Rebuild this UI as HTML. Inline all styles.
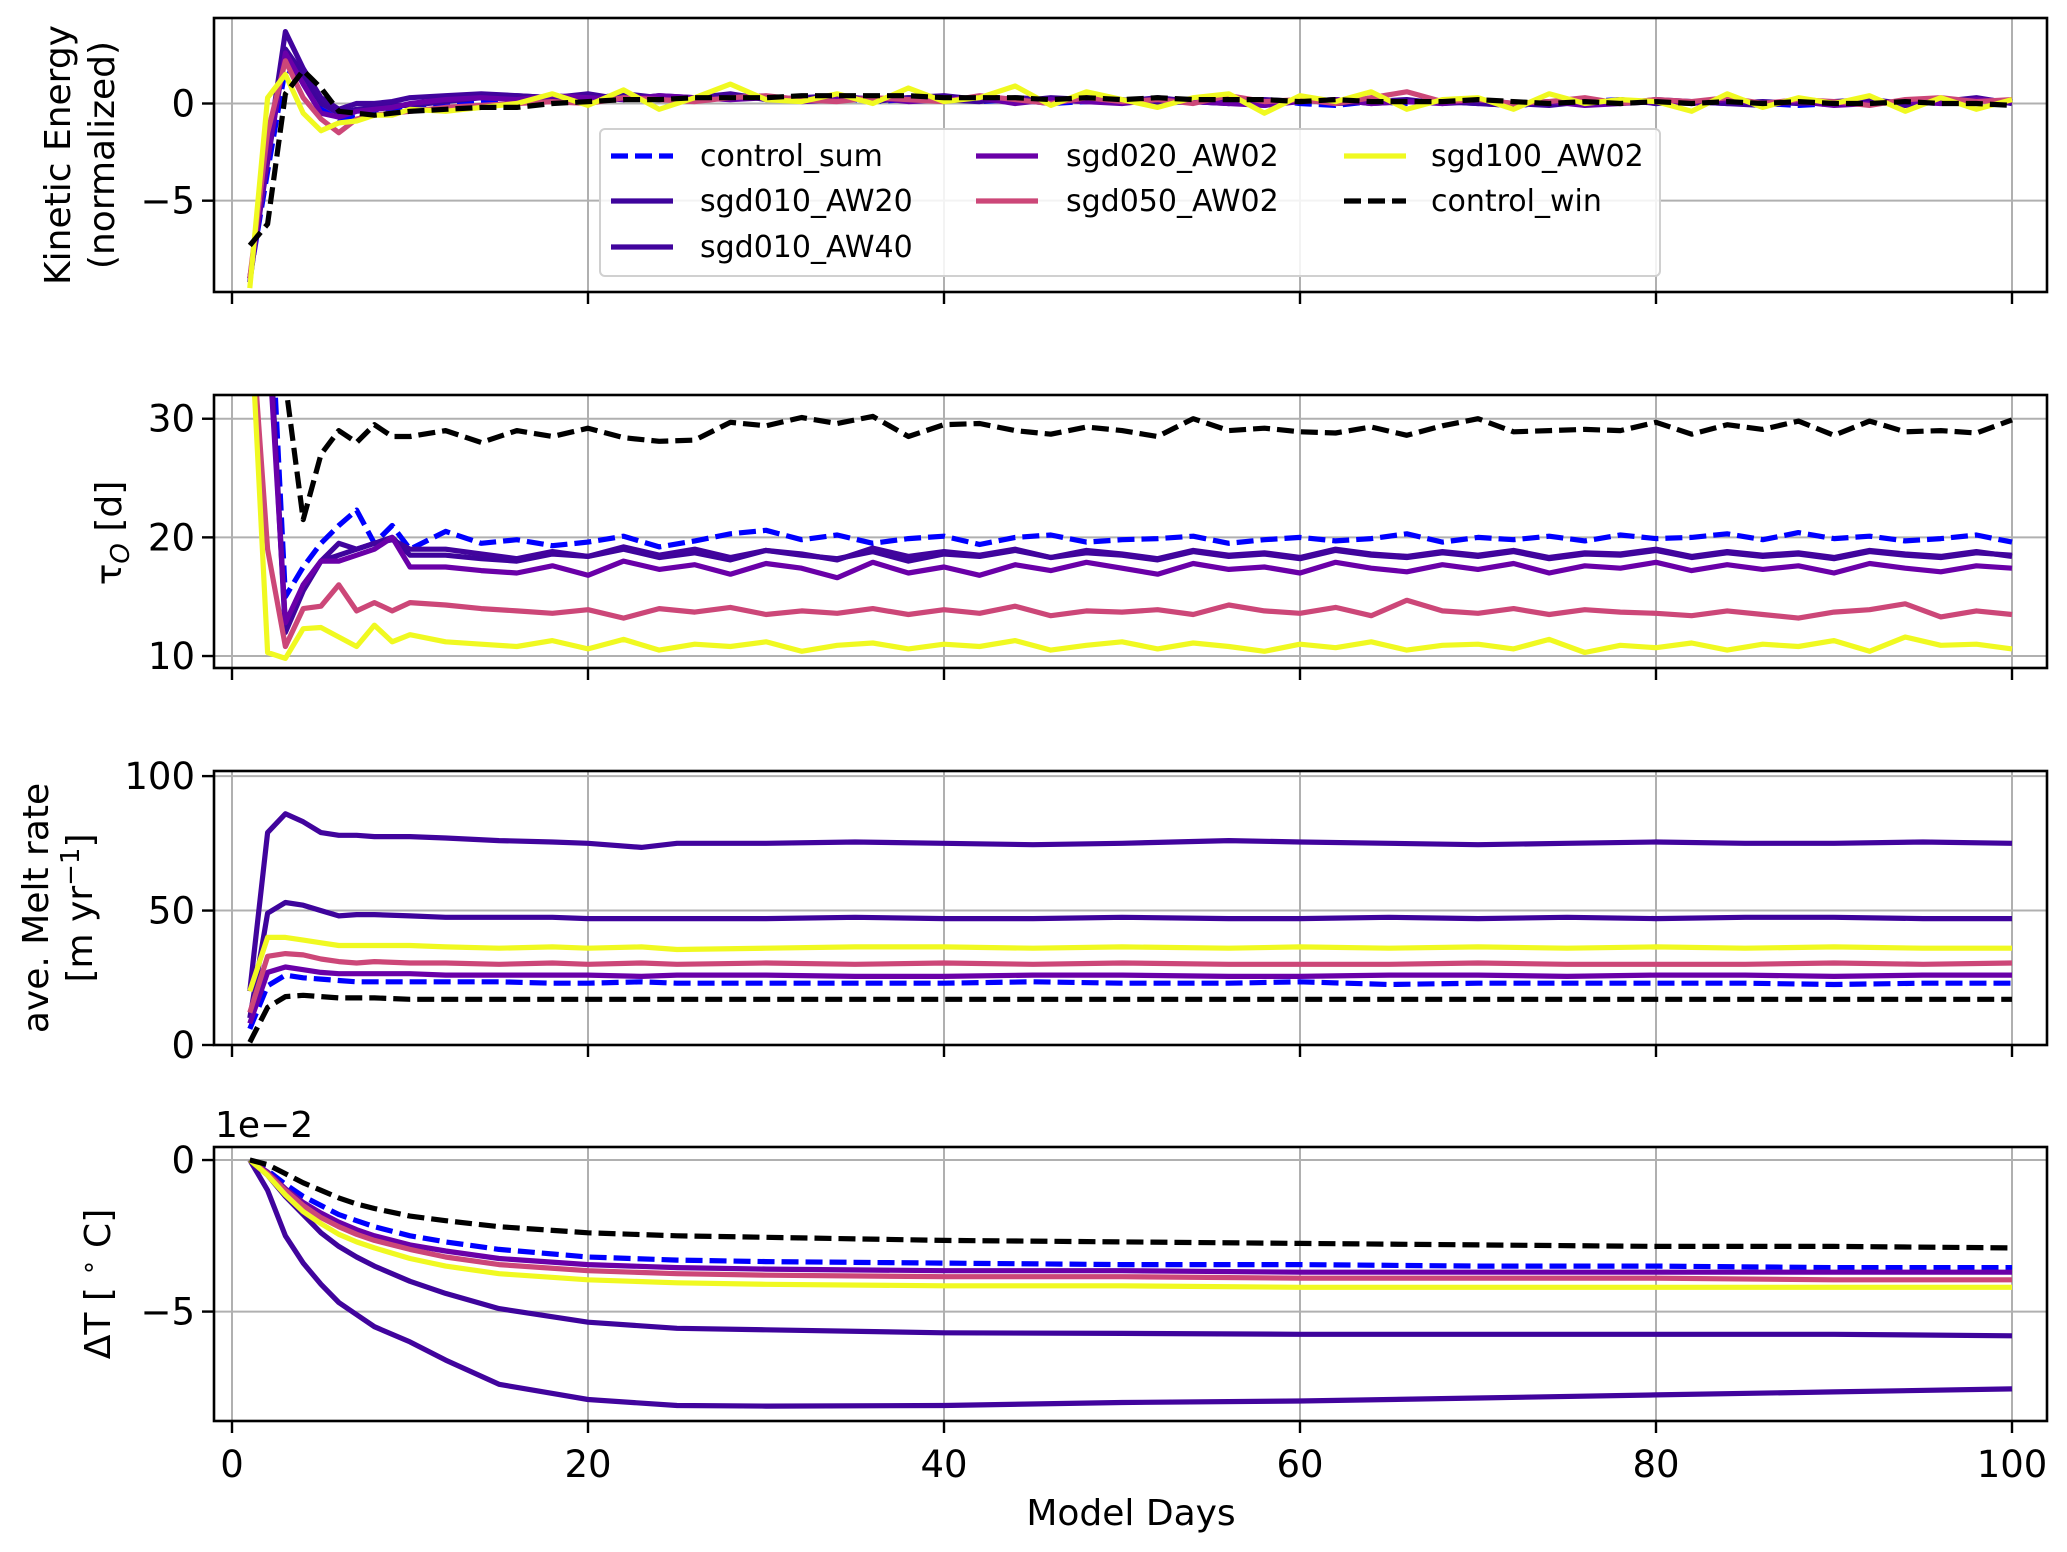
<!DOCTYPE html>
<html><head><meta charset="utf-8"><style>
html,body{margin:0;padding:0;background:#fff;}
svg{display:block;font-family:"DejaVu Sans","Liberation Sans",sans-serif;}
</style></head><body>
<svg id="chart" xmlns="http://www.w3.org/2000/svg" width="2067" height="1552" viewBox="0 0 2067 1552">
<rect x="0" y="0" width="2067" height="1552" fill="#fff"/>
<g id="root"></g>
</svg>
<script>
// ---------- data ----------
const seriesNames = ["control_sum","sgd010_AW20","sgd010_AW40","sgd020_AW02","sgd050_AW02","sgd100_AW02","control_win"];
const xTicks = [0,20,40,60,80,100];
const daysDense = [1,2,3,4,5,6,7,8,9,10,12,14,16,18,20,22,24,26,28,30,32,34,36,38,40,42,44,46,48,50,52,54,56,58,60,62,64,66,68,70,72,74,76,78,80,82,84,86,88,90,92,94,96,98,100];
const keControlSum = [-9,-3.5,1.8,1.2,-0.3,-0.8,-0.6,-0.5,-0.4,-0.3,0,0.1,0.2,0.3,0.2,0.3,0.2,0.3,0.4,0.3,0.2,0.3,0.1,0.2,0.3,0.1,0.2,0,0.1,0.2,0,0.1,0,0.2,0,-0.1,0.1,0,0.1,0,-0.1,0,0.1,0.2,0,0.1,0.1,0,-0.1,0,0.1,0,0.1,0,0.1];
const keAW20 = [-9,-3,2.8,1.5,0,-0.5,-0.3,-0.2,-0.1,-0.1,0.1,0.3,0.4,0.3,0.2,0.5,0.3,0.2,0.4,0.3,0.2,0.4,0.1,0.3,0.2,0.1,0.3,0.2,0.1,0.2,0,0.2,0.1,-0.1,0.2,0,0.1,0.2,0,0.1,0,-0.1,0.1,0,0.2,0.1,0,0.1,0,0.1,0.2,0,0.1,0.2,0.1];
const keAW40 = [-9.2,-2.5,3.7,1.8,0.3,-0.3,0,0,0.1,0.3,0.4,0.5,0.4,0.3,0.5,0.2,0.4,0.3,0.5,0.2,0.3,0.4,0.2,0.3,0.4,0.2,0.1,0.3,0.2,0.1,0.3,0.1,0,0.2,0.1,0.2,0,0.1,0.1,0,-0.1,0.1,0,0.2,0,0.1,0,-0.1,0.1,0,0.1,-0.1,0.1,0.3,0];
const keSgd020 = [-9,-2.8,2.6,1.0,-0.5,-0.7,-0.4,-0.3,-0.2,0,0.2,0.3,0.2,0.4,0.3,0.2,0.4,0.3,0.2,0.3,0.1,0.2,0.3,0.1,0.2,0.3,0,0.2,0.1,0,0.2,0.1,0,-0.1,0.1,0.2,0,0.1,0,0.2,0,0.1,-0.1,0,0.1,0,0.2,0,0.1,-0.1,0,0.1,0,0.2,0.1];
const keSgd050 = [-9,-1.5,2.2,0.3,-0.8,-1.5,-0.8,-0.6,-0.5,-0.4,-0.2,-0.1,0,0.1,0,0.3,0.2,0.1,0.3,0.4,0.2,0.1,0.3,0.2,0.1,0.4,0.2,0,0.3,0.1,0.2,0,0.4,0.1,0.2,0,0.3,0.6,0.1,0.2,0,0.1,0.3,0,0.2,0.1,0.3,0,0.2,0.1,-0.1,0.2,0.3,0.1,0.2];
const keSgd100 = [-9.5,0.3,1.5,-0.5,-1.4,-1.0,-0.9,-0.6,-0.6,-0.3,-0.4,-0.2,0,0.5,-0.1,0.7,-0.3,0.3,1.0,0.2,0.1,0.5,0,0.8,0.1,0.3,0.9,-0.1,0.6,0.2,-0.2,0.3,0.5,-0.5,0.4,0.1,0.6,-0.3,0.2,0.3,-0.3,0.5,0,0.2,0.1,-0.4,0.5,-0.2,0.3,0,0.4,-0.4,0.3,-0.3,0.2];
const keControlWin = [-7.3,-6.2,0.5,1.7,0.8,-0.4,-0.5,-0.6,-0.5,-0.4,-0.3,-0.2,-0.2,0,0.1,0.2,0.2,0.3,0.3,0.3,0.4,0.4,0.4,0.4,0.3,0.3,0.3,0.2,0.3,0.2,0.3,0.2,0.2,0.2,0.1,0.2,0.1,0.1,0.1,0.2,0.1,0,0.1,0,0.1,0,0.1,0,0.1,0,0,0.1,0,0,-0.1];
const tauControlSum = [60,45,15,17.5,19.5,21,22.3,19.5,21,19,20.5,19.5,19.8,19.3,19.6,20.1,19.2,19.7,20.3,20.6,19.8,20.2,19.5,19.9,20.1,19.4,20.0,20.2,19.6,19.8,19.9,20.1,19.5,19.8,20.0,19.7,19.9,20.3,19.6,20.0,19.8,20.1,19.7,20.2,19.9,20.0,20.3,19.8,20.4,19.9,20.1,19.7,19.9,20.2,19.6];
const tauAW20 = [60,40,12.5,16,18,18.5,19,19.5,20,18.5,18.5,18.2,18.0,18.6,18.4,19.0,18.3,18.7,18.1,18.9,18.5,18.2,18.8,18.0,18.6,18.4,18.9,18.3,18.7,18.5,18.1,18.8,18.4,18.6,18.2,18.9,18.5,18.3,18.7,18.4,18.8,18.2,18.6,18.5,18.9,18.3,18.7,18.4,18.6,18.2,18.8,18.5,18.3,18.7,18.5];
const tauAW40 = [60,40,12,15.5,18,19.5,19,19.5,19.8,19,19.0,18.6,18.2,18.8,18.4,19.2,18.5,19.0,18.3,18.9,18.6,18.1,19.1,18.4,18.8,18.5,19.0,18.3,18.9,18.6,18.2,18.9,18.5,18.7,18.3,19.0,18.6,18.4,18.8,18.5,18.9,18.3,18.7,18.6,19.0,18.4,18.8,18.5,18.7,18.3,18.9,18.6,18.4,18.8,18.4];
const tauSgd020 = [60,38,12.8,16,18,18,18.5,19,20,17.5,17.5,17.2,17.0,17.6,16.8,18.0,17.3,17.7,16.9,17.8,17.4,16.6,17.9,17.0,17.5,16.8,17.7,17.2,17.9,17.4,16.9,17.8,17.3,17.5,17.0,17.9,17.4,17.1,17.7,17.3,17.8,17.0,17.6,17.4,17.9,17.2,17.7,17.3,17.6,17.0,17.8,17.4,17.1,17.6,17.4];
const tauSgd050 = [40,19,10.8,14,14.2,16,13.8,14.5,13.8,14.5,14.3,14.0,13.8,13.6,13.9,13.2,14.0,13.7,14.1,13.5,13.8,13.6,14.0,13.5,13.9,13.6,14.2,13.4,13.8,13.7,13.9,13.5,14.3,13.8,13.6,14.1,13.4,14.7,13.8,13.6,14.0,13.5,13.9,13.7,13.6,13.4,13.8,13.5,13.2,13.7,13.9,14.4,13.3,13.8,13.5];
const tauSgd100 = [40,10.3,9.8,12.3,12.4,11.6,10.8,12.6,11.2,11.8,11.2,11.0,10.8,11.3,10.6,11.4,10.5,11.0,10.8,11.2,10.4,10.9,11.1,10.6,11.0,10.8,11.3,10.5,10.9,11.2,10.6,11.1,10.8,10.4,11.0,10.7,11.2,10.5,10.9,11.0,10.6,11.4,10.3,10.9,10.7,11.1,10.5,11.0,10.8,11.3,10.4,11.6,10.9,11.0,10.6];
const tauControlWin = [80,60,33,21.5,27,29,28,29.5,28.5,28.5,29,28,29,28.5,29.2,28.4,28.1,28.2,29.7,29.4,30.1,29.6,30.2,28.5,29.5,29.6,29.0,28.7,29.3,29.0,28.5,30.0,29.0,29.2,28.9,28.8,29.3,28.6,29.4,30.0,28.9,29.0,29.1,29.0,29.7,28.7,29.5,29.1,29.8,28.6,29.8,28.9,29.0,28.8,29.9];
const daysMelt = [1,2,3,4,5,6,7,8,10,12,15,18,20,23,25,30,35,40,45,50,56,60,65,70,75,80,85,90,95,100];
const meltControlSum = [6,22,26,25,24.5,24,23.5,23.5,23.5,23.5,23.5,23,23,23.5,23,23,23,23,23.5,23,23,23.5,22.5,23,23,23,23,22.5,23,23];
const meltAW20 = [10,49,53,52,50,48,48.5,48.5,48,47.5,47.5,47.5,47,47,47,47,47.5,47,47,47.5,47,47,47.5,47,47.5,47,47.5,47.5,47,47];
const meltAW40 = [20,79,86,83,79,78,78,77.5,77.5,77,76,75.5,75,73.5,75,75,75.5,75,74.5,75,76,75.5,75,74.5,75,75.5,75,75,75.5,75];
const meltSgd020 = [8,27,29,28,27,26.5,26.5,26.5,26.5,26,26,26,26,25.5,26,26,25.5,25.5,26,26,25.5,25.5,26,26,25.5,26,26,25.5,26,26];
const meltSgd050 = [12,33,34,33.5,32,31,30.5,31,30.5,30.5,30,30.5,30,30.5,30,30.5,30,30.5,30,30.5,30,30,30,30.5,30,30,30,30.5,30,30.5];
const meltSgd100 = [20,40,40,39,38,37,37,37,37,36.5,36,36.5,36,36.5,35.5,36,36.5,36.5,36,36.5,36,36.5,36,36.5,36,36.5,36,36.5,36,36];
const meltControlWin = [1,14,18,18.5,18,17.5,17.5,17.5,17,17,17,17,17,17,17,17,17,17,17,17,17,17,17,17,17,17,17,17,17,17];
const daysDT = [1,2,3,4,5,6,7,8,10,12,15,20,25,30,40,50,60,70,80,90,100];
const dtControlSum = [0,-0.35,-0.8,-1.2,-1.5,-1.8,-2.0,-2.2,-2.5,-2.7,-2.95,-3.2,-3.3,-3.35,-3.4,-3.45,-3.45,-3.5,-3.5,-3.55,-3.55];
const dtAW20 = [0,-0.5,-1.2,-1.8,-2.4,-2.85,-3.2,-3.5,-4.0,-4.4,-4.9,-5.35,-5.55,-5.6,-5.7,-5.72,-5.75,-5.75,-5.75,-5.75,-5.8];
const dtAW40 = [0,-1.0,-2.5,-3.4,-4.1,-4.7,-5.1,-5.5,-6.0,-6.6,-7.4,-7.9,-8.1,-8.12,-8.1,-8.0,-7.95,-7.85,-7.75,-7.65,-7.55];
const dtSgd020 = [0,-0.4,-0.95,-1.4,-1.75,-2.05,-2.3,-2.5,-2.8,-3.0,-3.25,-3.45,-3.55,-3.6,-3.65,-3.65,-3.7,-3.7,-3.7,-3.7,-3.7];
const dtSgd050 = [0,-0.45,-1.0,-1.5,-1.9,-2.2,-2.45,-2.65,-2.95,-3.2,-3.45,-3.65,-3.75,-3.8,-3.85,-3.85,-3.9,-3.9,-3.9,-3.95,-3.95];
const dtSgd100 = [0,-0.5,-1.15,-1.7,-2.1,-2.45,-2.7,-2.9,-3.25,-3.5,-3.75,-3.95,-4.05,-4.1,-4.15,-4.15,-4.2,-4.2,-4.2,-4.2,-4.2];
const dtControlWin = [0,-0.15,-0.45,-0.75,-1.0,-1.25,-1.45,-1.6,-1.85,-2.0,-2.2,-2.4,-2.5,-2.55,-2.65,-2.7,-2.75,-2.8,-2.85,-2.85,-2.9];
const yTicksKE = [-5,0];
const yTicksTau = [10,20,30];
const yTicksMelt = [0,50,100];
const yTicksDT = [-5,0];

// ---------- styling ----------
const NS = "http://www.w3.org/2000/svg";
const root = document.getElementById("root");
const L = 214, R = 2047;
const colors = ["#0000ff","#3e049c","#41049d","#6a00a8","#cc4778","#f0f921","#000000"];
const dashed = [true,false,false,false,false,false,true];
function xScale(d){ return 232 + d * 17.8; }
function mk(tag, attrs, parent){
  const e = document.createElementNS(NS, tag);
  for (const k in attrs) e.setAttribute(k, attrs[k]);
  (parent || root).appendChild(e);
  return e;
}
function fmt(v){ return v < 0 ? "\u2212" + Math.abs(v) : String(v); }

const panels = [
  {key:"kinetic-energy", top:18, bottom:292, ymin:-9.7, ymax:4.4, ticks:yTicksKE, x:[daysDense], series:[keControlSum,keAW20,keAW40,keSgd020,keSgd050,keSgd100,keControlWin]},
  {key:"tau", top:395, bottom:668, ymin:8.99, ymax:32.0, ticks:yTicksTau, x:[daysDense], series:[tauControlSum,tauAW20,tauAW40,tauSgd020,tauSgd050,tauSgd100,tauControlWin]},
  {key:"melt-rate", top:771, bottom:1045, ymin:0, ymax:101.9, ticks:yTicksMelt, x:[daysMelt], series:[meltControlSum,meltAW20,meltAW40,meltSgd020,meltSgd050,meltSgd100,meltControlWin]},
  {key:"delta-t", top:1147, bottom:1421, ymin:-8.61, ymax:0.43, ticks:yTicksDT, x:[daysDT], series:[dtControlSum,dtAW20,dtAW40,dtSgd020,dtSgd050,dtSgd100,dtControlWin]}
];

panels.forEach((p, pi) => {
  const g = mk("g", {});
  
  
  const yS = v => p.bottom - (v - p.ymin) / (p.ymax - p.ymin) * (p.bottom - p.top);
  const cp = mk("clipPath", {id:"clip"+pi}, g);
  mk("rect", {x:L, y:p.top, width:R-L, height:p.bottom-p.top}, cp);
  xTicks.forEach(t => {
    const gl = mk("line", {x1:xScale(t), x2:xScale(t), y1:p.top, y2:p.bottom, stroke:"#b0b0b0", "stroke-width":2}, g);
    
    
  });
  p.ticks.forEach(t => {
    const gl = mk("line", {x1:L, x2:R, y1:yS(t), y2:yS(t), stroke:"#b0b0b0", "stroke-width":2}, g);
    
    
  });
  const sg = mk("g", {"clip-path":"url(#clip"+pi+")"}, g);
  p.series.forEach((vals, si) => {
    const xs = p.x[0];
    const d = vals.map((v, i) => (i ? "L" : "M") + xScale(xs[i]).toFixed(1) + " " + yS(v).toFixed(1)).join(" ");
    const path = mk("path", {d:d, fill:"none", stroke:colors[si], "stroke-width":5.2, "stroke-linejoin":"round"}, sg);
    if (dashed[si]) path.setAttribute("stroke-dasharray", "17 7");
    
    
  });
  const fr = mk("rect", {x:L, y:p.top, width:R-L, height:p.bottom-p.top, fill:"none", stroke:"#000", "stroke-width":2.6}, g);
  
  
  p.ticks.forEach(t => {
    const tk = mk("line", {x1:L-12, x2:L, y1:yS(t), y2:yS(t), stroke:"#000", "stroke-width":2.4}, g);
    
    
    const tl = mk("text", {x:L-19, y:yS(t)+13, "text-anchor":"end", "font-size":37, fill:"#000"}, g);
    tl.textContent = fmt(t);
    
    
  });
  xTicks.forEach(t => {
    const tk = mk("line", {x1:xScale(t), x2:xScale(t), y1:p.bottom, y2:p.bottom+12, stroke:"#000", "stroke-width":2.4}, g);
    
    
    if (pi === 3) {
      const tl = mk("text", {x:xScale(t), y:1477, "text-anchor":"middle", "font-size":37, fill:"#000"}, g);
      tl.textContent = String(t);
      
      
    }
  });
});
</script>
<svg style="position:absolute;left:0;top:0" width="2067" height="1552" xmlns="http://www.w3.org/2000/svg">
  <g font-family="DejaVu Sans, Liberation Sans, sans-serif" font-size="36" fill="#000">
    <text transform="translate(70,155) rotate(-90)" text-anchor="middle">Kinetic Energy</text>
    <text transform="translate(114,155) rotate(-90)" text-anchor="middle">(normalized)</text>
    <text transform="translate(121,533) rotate(-90)" text-anchor="middle">τ<tspan font-style="italic" font-size="26" dy="8">O</tspan><tspan dy="-8"> [d]</tspan></text>
    <text transform="translate(48,908) rotate(-90)" text-anchor="middle">ave. Melt rate</text>
    <text transform="translate(92,908) rotate(-90)" text-anchor="middle">[m yr<tspan font-size="26" dy="-13">−1</tspan><tspan dy="13">]</tspan></text>
    <text transform="translate(110,1284) rotate(-90)" text-anchor="middle">ΔT [ <tspan font-size="26" dy="-13">∘</tspan><tspan dy="13"> C]</tspan></text>
    <text x="215" y="1137">1e−2</text>
    <text x="1131" y="1525" text-anchor="middle">Model Days</text>
  </g>
  <g font-family="DejaVu Sans, Liberation Sans, sans-serif" font-size="30" fill="#000">
    <rect x="600" y="129" width="1060" height="147" rx="5" fill="#fff" fill-opacity="0.85" stroke="#d0d0d0" stroke-width="2"/>
    <g><line x1="611" x2="673" y1="156" y2="156" stroke="#0000ff" stroke-width="5.2" stroke-dasharray="17 7"/><text x="700" y="166">control_sum</text></g>
    <g><line x1="611" x2="673" y1="201" y2="201" stroke="#3e049c" stroke-width="5.2"/><text x="700" y="211">sgd010_AW20</text></g>
    <g><line x1="611" x2="673" y1="247" y2="247" stroke="#41049d" stroke-width="5.2"/><text x="700" y="257">sgd010_AW40</text></g>
    <g><line x1="976" x2="1038" y1="156" y2="156" stroke="#6a00a8" stroke-width="5.2"/><text x="1066" y="166">sgd020_AW02</text></g>
    <g><line x1="976" x2="1038" y1="201" y2="201" stroke="#cc4778" stroke-width="5.2"/><text x="1066" y="211">sgd050_AW02</text></g>
    <g><line x1="1344" x2="1406" y1="156" y2="156" stroke="#f0f921" stroke-width="5.2"/><text x="1431" y="166">sgd100_AW02</text></g>
    <g><line x1="1344" x2="1406" y1="201" y2="201" stroke="#000" stroke-width="5.2" stroke-dasharray="17 7"/><text x="1431" y="211">control_win</text></g>
  </g>
</svg>
</body></html>
